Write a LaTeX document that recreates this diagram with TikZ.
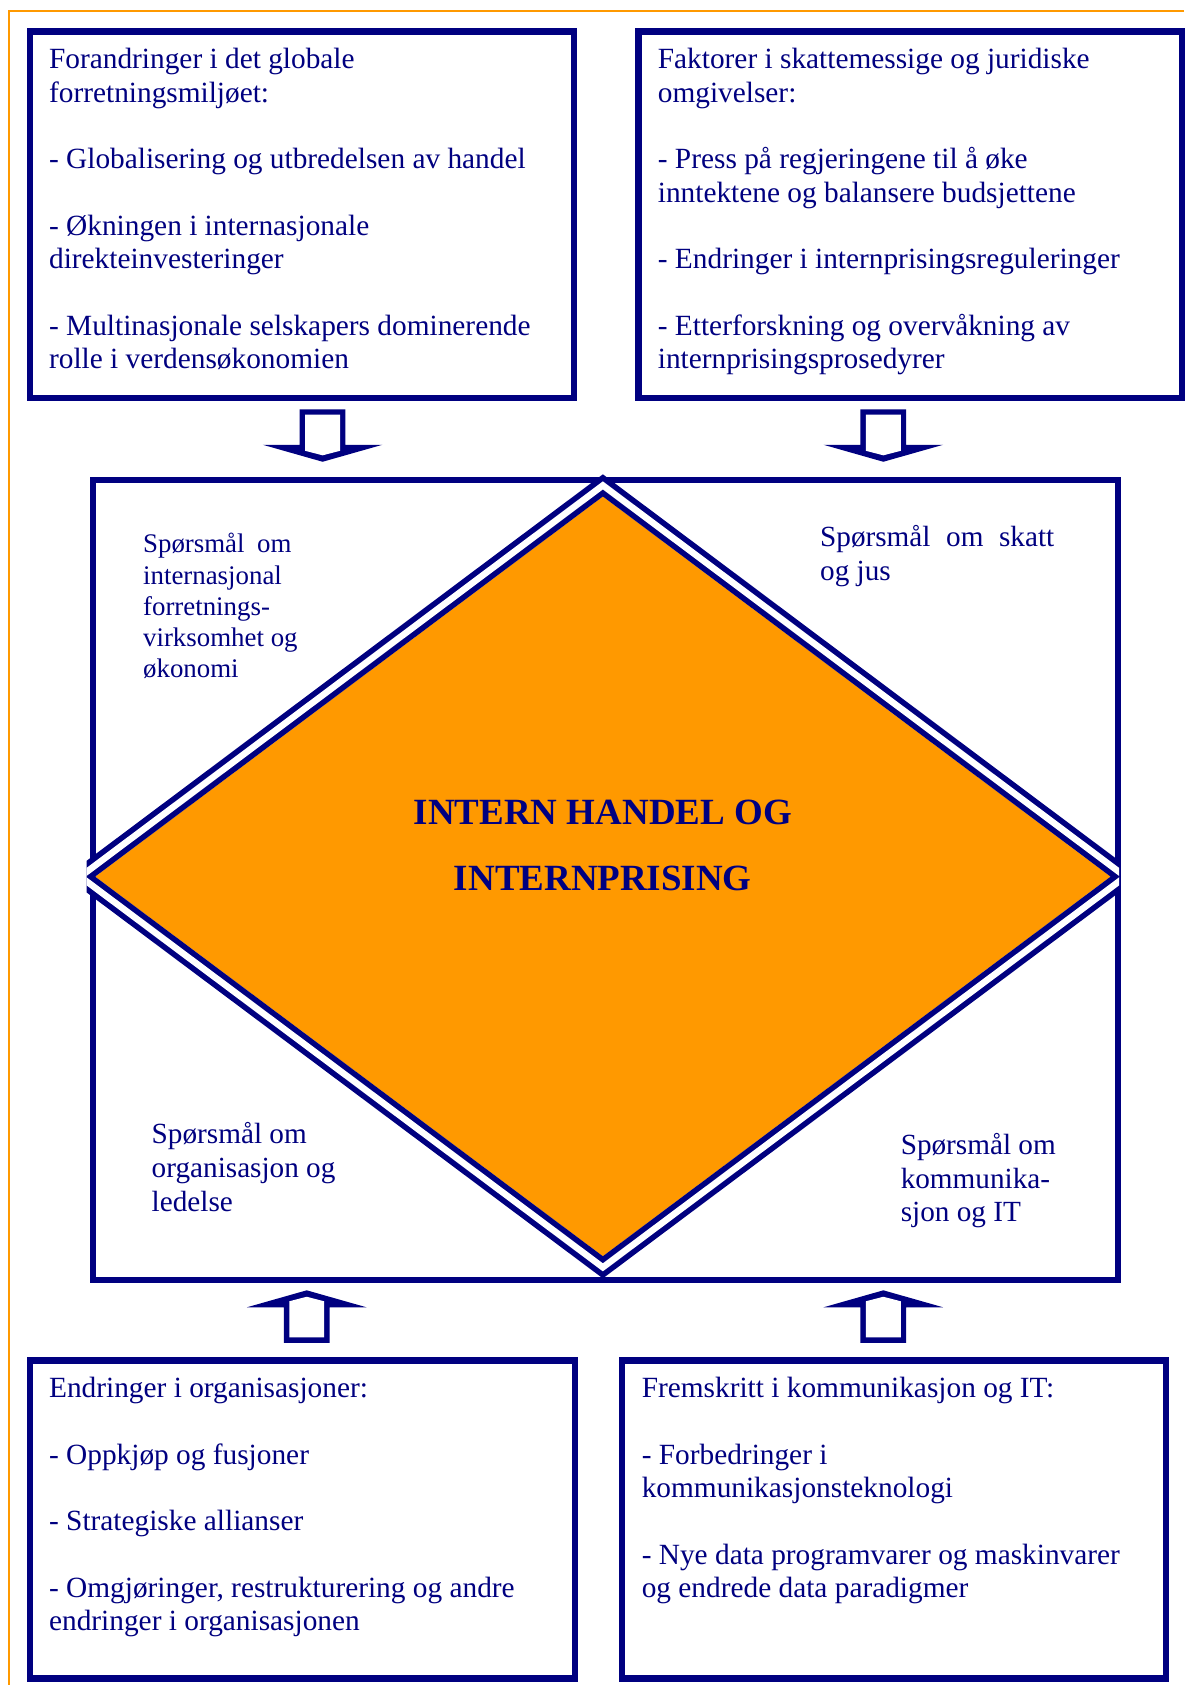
\documentclass[tikz,border=0pt]{standalone}
\usepackage{fontspec}
\setmainfont{Liberation Serif}
\definecolor{navyb}{RGB}{0,0,128}
\definecolor{orng}{RGB}{255,153,0}
\tikzset{
  boxframe/.style={draw=navyb, line width=5.8pt, inner sep=0pt, anchor=north west},
  boxtext/.style={anchor=base west, inner sep=0pt, align=left, text=navyb, font=\fontsize{27.3}{31}\selectfont},
  cornertext/.style={anchor=base west, inner sep=0pt, align=left, text=navyb, font=\fontsize{27.2}{31.5}\selectfont},
  smalllabel/.style={anchor=base west, inner sep=0pt, align=left, text=navyb, font=\fontsize{25}{29}\selectfont},
  centertitle/.style={anchor=base, inner sep=0pt, align=center, text=navyb, font=\fontsize{34.4}{61.4}\selectfont\bfseries},
  orangeframe/.style={draw=orng, line width=1.8pt},
  blockarrow/.pic={
    \fill[navyb] (-21.3,-48.8) -- (21.3,-48.8) -- (21.3,-15.8) -- (55.6,-15.8) -- (0,0) -- (-55.6,-15.8) -- (-21.3,-15.8) -- cycle;
    \fill[white] (-16.2,-43.8) -- (16.2,-43.8) -- (16.2,-10.2) -- (0,-6) -- (-16.2,-10.2) -- cycle;
  }
}
\begin{document}
\begin{tikzpicture}[x=1pt,y=-1pt]
\useasboundingbox (0,0) rectangle (1102,1568);
\fill[white] (0,0) rectangle (1102,1568);
% orange frame
\draw[orangeframe] (1102,10.2) -- (8.6,10.2) -- (8.6,1568);

% outer boxes
\node[boxframe, minimum width=506.1pt, minimum height=341.2pt] (tlbox) at (24.9,26.4) {};
\node[boxframe, minimum width=505.7pt, minimum height=341.2pt] (trbox) at (591.3,26.4) {};
\node[boxframe, minimum width=507.1pt, minimum height=295.8pt] (blbox) at (24.9,1263.2) {};
\node[boxframe, minimum width=506pt, minimum height=295.8pt] (brbox) at (576,1263.2) {};

% box texts (anchor = baseline of last line)
\node[boxtext] (tltext) at (45.5,343) {Forandringer i det globale\\
forretningsmiljøet:\\[31pt]
- Globalisering og utbredelsen av handel\\[31pt]
- Økningen i internasjonale\\
direkteinvesteringer\\[31pt]
- Multinasjonale selskapers dominerende\\
rolle i verdensøkonomien};

\node[boxtext] (trtext) at (612,343) {Faktorer i skattemessige og juridiske\\
omgivelser:\\[31pt]
- Press på regjeringene til å øke\\
inntektene og balansere budsjettene\\[31pt]
- Endringer i internprisingsreguleringer\\[31pt]
- Etterforskning og overvåkning av\\
internprisingsprosedyrer};

\node[boxtext] (bltext) at (45.5,1517.5) {Endringer i organisasjoner:\\[31pt]
- Oppkjøp og fusjoner\\[31pt]
- Strategiske allianser\\[31pt]
- Omgjøringer, restrukturering og andre\\
endringer i organisasjonen};

\node[boxtext] (brtext) at (597,1486.5) {Fremskritt i kommunikasjon og IT:\\[31pt]
- Forbedringer i\\
kommunikasjonsteknologi\\[31pt]
- Nye data programvarer og maskinvarer\\
og endrede data paradigmer};

% block arrows
\coordinate (tlarrow) at (300.2,429.7);
\coordinate (trarrow) at (822,429.7);
\coordinate (blarrow) at (285.4,1200.7);
\coordinate (brarrow) at (822,1200.7);
\pic at (tlarrow) {blockarrow};
\pic at (trarrow) {blockarrow};
\pic[rotate=180] at (blarrow) {blockarrow};
\pic[rotate=180] at (brarrow) {blockarrow};

% central rectangle
\node[boxframe, line width=5.6pt, minimum width=954pt, minimum height=744.5pt] (centerrect) at (84,443.5) {};

% diamond
\coordinate (dtop) at (561,462);
\coordinate (dright) at (1033.5,815.75);
\coordinate (dbottom) at (561,1169);
\coordinate (dleft) at (88.5,815.75);
\fill[orng] (dtop) -- (dright) -- (dbottom) -- (dleft) -- cycle;
\begin{scope}
  \clip (80.7,0) rectangle (1041.4,1568);
  \draw[draw=navyb, double=white, double distance=6pt, line width=5.25pt, line join=miter]
    (561,451.7) -- (1047.3,815.75) -- (561,1179.3) -- (74.7,815.75) -- cycle;
\end{scope}

% corner labels (anchor = baseline of last line)
\node[smalllabel] (lbltl) at (133,630.5) {Spørsmål\hspace{11.7pt}om\\
internasjonal\\
forretnings-\\
virksomhet og\\
økonomi};
\node[cornertext, font=\fontsize{27.2}{32}\selectfont] (lbltr) at (763,540.5) {Spørsmål\hspace{14.5pt}om\hspace{14.5pt}skatt\\
og jus};
\node[cornertext] (lblbl) at (141,1127) {Spørsmål om\\
organisasjon og\\
ledelse};
\node[cornertext] (lblbr) at (838,1137) {Spørsmål om\\
kommunika-\\
sjon og IT};

% title
\node[centertitle] (title) at (561,828.7) {INTERN HANDEL OG\\INTERNPRISING};
\end{tikzpicture}
\end{document}
